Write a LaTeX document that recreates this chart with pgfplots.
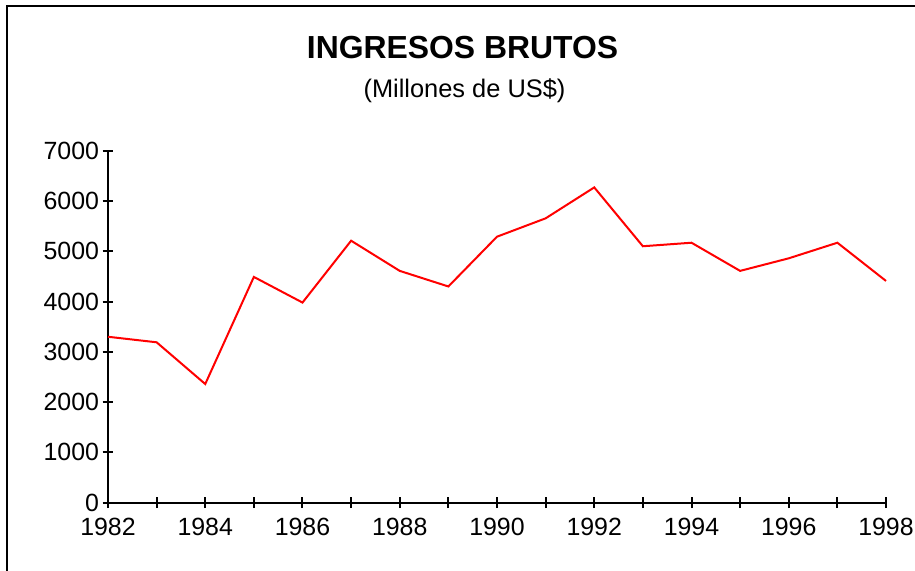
\documentclass[border=0pt]{standalone}
\usepackage{fontspec}
\setmainfont{Liberation Sans}
\usepackage{pgfplots}
\pgfplotsset{compat=1.18}

\begin{document}
\begin{tikzpicture}
\begin{axis}[
    at={(0,0)}, anchor=south west,
    scale only axis,
    width=778bp, height=352bp,
    xmin=1982, xmax=1998,
    ymin=0, ymax=7000,
    axis x line=bottom, axis y line=left,
    axis line style={-, line width=2bp, black},
    xtick={1982,1984,...,1998},
    minor xtick={1983,1985,...,1997},
    ytick={0,1000,...,7000},
    tick align=center,
    major tick length=11bp, minor tick length=11bp,
    every tick/.style={black, line width=2bp},
    /pgf/number format/1000 sep={},
    /pgf/number format/assume math mode=true,
    tick label style={font=\fontsize{25}{29}\selectfont},
    xticklabel style={yshift=-6bp},
    clip=false,
]
\addplot[red, line width=2bp, line join=miter] coordinates {
  (1982,3300) (1983,3190) (1984,2360) (1985,4490) (1986,3980)
  (1987,5210) (1988,4610) (1989,4300) (1990,5290) (1991,5655)
  (1992,6270) (1993,5100) (1994,5170) (1995,4610) (1996,4860)
  (1997,5170) (1998,4410)
};
\end{axis}
\node[font=\fontsize{32}{36}\selectfont\bfseries] at (354.5bp,455.2bp) {INGRESOS BRUTOS};
\node[font=\fontsize{25.5}{30}\selectfont] at (356.5bp,411.7bp) {(Millones de US\$)};
\draw[line width=2.5bp] (-101bp,-80bp) -- (-101bp,496.7bp) -- (820bp,496.7bp);
\pgfresetboundingbox
\useasboundingbox (-108bp,-68.3bp) rectangle (807bp,502.7bp);
\end{tikzpicture}
\end{document}
